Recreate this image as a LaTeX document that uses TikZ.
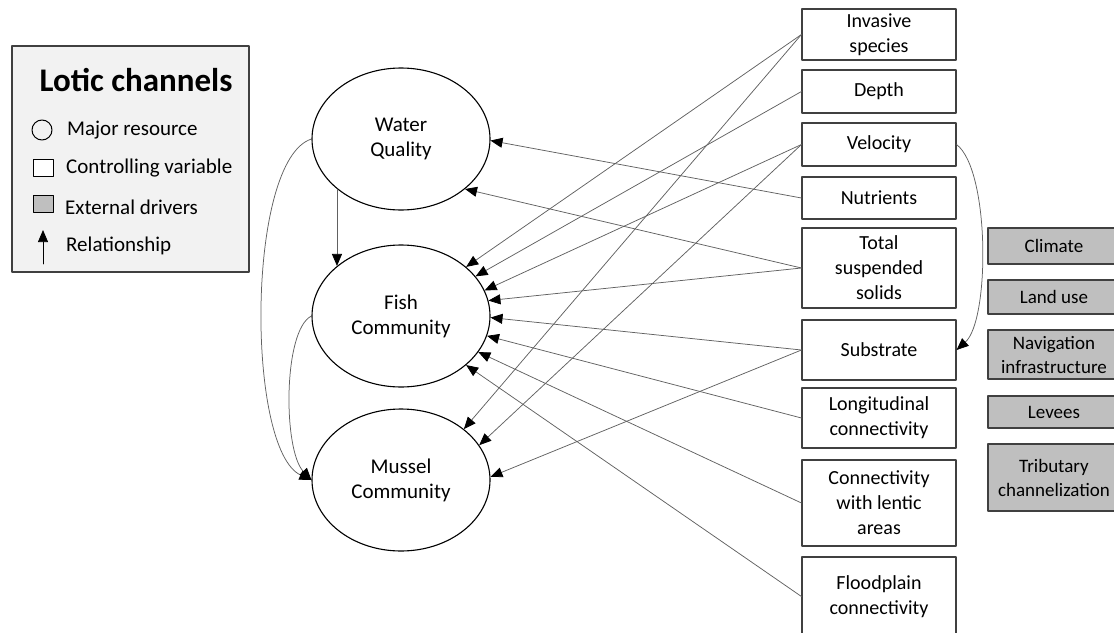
\documentclass[tikz,border=0pt]{standalone}
\usepackage{fontspec}
\setmainfont{Carlito}
\usepackage{tikz}
\usetikzlibrary{arrows.meta}
\usetikzlibrary{shapes.geometric}
\usetikzlibrary{positioning}
\definecolor{linegray}{rgb}{0.38,0.38,0.38}
\definecolor{edgegray}{rgb}{0.25,0.25,0.25}
\definecolor{drivergray}{rgb}{0.75,0.75,0.75}
\definecolor{legendgray}{rgb}{0.95,0.95,0.95}

\begin{document}
\begin{tikzpicture}[line cap=round,line join=round,x=1pt,y=-1pt,
  resnode/.style={draw=black,line width=1.1pt,ellipse,minimum width=178pt,minimum height=142pt,inner sep=0pt,align=center,font=\fontsize{21}{25}\selectfont},
  ctrlbox/.style={draw=edgegray,line width=1.1pt,fill=white,minimum width=154pt,inner sep=0pt,align=center,font=\fontsize{20}{25}\selectfont},
  drivebox/.style={draw=edgegray,line width=1.1pt,fill=drivergray,minimum width=132pt,inner sep=0pt,align=center,font=\fontsize{19}{24}\selectfont},
  keytext/.style={anchor=west,inner sep=0pt,font=\fontsize{21}{24}\selectfont},
  rel/.style={-{Triangle[length=12pt,width=10pt,color=black]},color=linegray,line width=0.75pt}]
\useasboundingbox (0,0) rectangle (1114,632);
\node[draw=edgegray,fill=legendgray,line width=1.1pt,minimum width=237pt,minimum height=226pt] (legend) at (130.5,159) {};
\node[font=\fontsize{33}{38}\selectfont\bfseries] (title) at (136,80) {Lotic channels};
\draw[line width=1pt] (42,130) circle (10pt);
\draw[line width=1pt,fill=white] (33,159) rectangle (53,176);
\draw[line width=1pt,fill=drivergray] (33,195) rectangle (53,212);
\draw[-{Triangle[length=12pt,width=10pt]},line width=0.75pt] (43,264) -- (43,230);
\node[keytext] (k1) at (67,130) {Major resource};
\node[keytext] (k2) at (66,168) {Controlling variable};
\node[keytext] (k3) at (65,207) {External drivers};
\node[keytext] (k4) at (66,246) {Relationship};

\node[resnode] (wq) at (401,139) {Water\\Quality};
\node[resnode] (fish) at (401,316) {Fish\\Community};
\node[resnode] (mussel) at (401,480) {Mussel\\Community};

\node[ctrlbox,minimum height=51pt] (inv) at (879,34.5) {Invasive\\species};
\node[ctrlbox,minimum height=43pt] (depth) at (879,91.5) {Depth};
\node[ctrlbox,minimum height=43pt] (vel) at (879,144.5) {Velocity};
\node[ctrlbox,minimum height=42pt] (nut) at (879,198) {Nutrients};
\node[ctrlbox,minimum height=80pt] (tss) at (879,268) {Total\\suspended\\solids};
\node[ctrlbox,minimum height=60pt] (sub) at (879,350) {Substrate};
\node[ctrlbox,minimum height=60pt] (lon) at (879,418) {Longitudinal\\connectivity};
\node[ctrlbox,minimum height=86pt] (len) at (879,503) {Connectivity\\with lentic\\areas};
\node[ctrlbox,minimum height=79pt] (flood) at (879,596.5) {Floodplain\\connectivity};

\node[drivebox,minimum height=36pt] (climate) at (1054,246) {Climate};
\node[drivebox,minimum height=34pt] (land) at (1054,297) {Land use};
\node[drivebox,minimum height=49pt] (nav) at (1054,354.5) {Navigation\\infrastructure};
\node[drivebox,minimum height=32pt] (levee) at (1054,412) {Levees};
\node[drivebox,minimum height=67pt] (trib) at (1054,477.5) {Tributary\\channelization};

\foreach \a/\b in {inv/fish.37,inv/mussel.39,depth/fish.28,vel/fish.17,vel/mussel.24,
  nut/wq.359,tss/wq.322,tss/fish.10,sub/fish.359,sub/mussel.2,
  lon/fish.347,len/fish.335,flood/fish.323}
\draw[rel] (\a.west) -- (\b);
\draw[rel] (wq.218) -- (fish.142);
\draw[rel] (wq.west) .. controls (246,160) and (246,450) .. (mussel.west);
\draw[rel] (fish.west) .. controls (283,330) and (283,450) .. (mussel.west);
\draw[rel] (vel.east) .. controls (990,170) and (990,320) .. (sub.east);
\end{tikzpicture}
\end{document}
